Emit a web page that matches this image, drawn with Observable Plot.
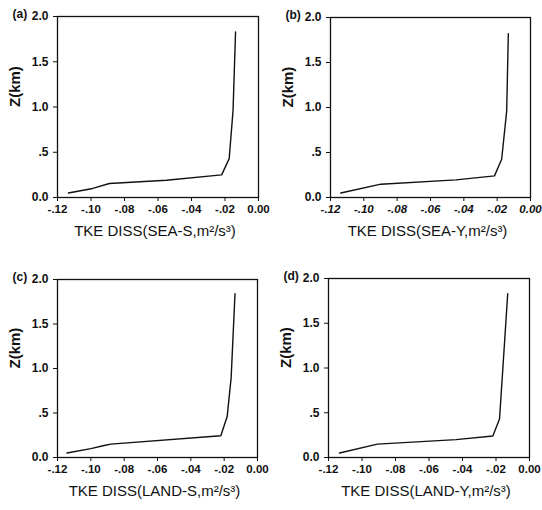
<!DOCTYPE html>
<html>
<head>
<meta charset="utf-8">
<script src="https://cdn.jsdelivr.net/npm/d3@7"></script>
<script src="https://cdn.jsdelivr.net/npm/@observablehq/plot@0.6"></script>
<style>
  html, body { margin: 0; padding: 0; background: #fff; }
  #wrap { position: relative; width: 542px; height: 510px; overflow: hidden; }
  .panel { position: absolute; width: 271px; height: 255px; }
  .panel svg { overflow: visible; }
</style>
</head>
<body>
<div id="wrap"></div>
<script>
// ---- data ----
const xTicks = [-0.12, -0.10, -0.08, -0.06, -0.04, -0.02, 0.00];
const xTickLabels = ["-.12", "-.10", "-.08", "-.06", "-.04", "-.02", "0.00"];
const yTicks = [0, 0.5, 1.0, 1.5, 2.0];
const yTickLabels = ["0.0", ".5", "1.0", "1.5", "2.0"];

const panelTags = ["(a)", "(b)", "(c)", "(d)"];
const panelTitles = [
  "TKE DISS(SEA-S,m\u00B2/s\u00B3)",
  "TKE DISS(SEA-Y,m\u00B2/s\u00B3)",
  "TKE DISS(LAND-S,m\u00B2/s\u00B3)",
  "TKE DISS(LAND-Y,m\u00B2/s\u00B3)"
];
const yLabel = "Z(km)";

// heights (km) and dissipation values per panel
const seaSZ = [0.05, 0.10, 0.155, 0.19, 0.25, 0.43, 0.96, 1.83];
const seaSX = [-0.1135, -0.099, -0.089, -0.055, -0.022, -0.0175, -0.0152, -0.0137];

const seaYZ = [0.05, 0.148, 0.196, 0.24, 0.425, 0.96, 1.82];
const seaYX = [-0.1138, -0.0898, -0.0447, -0.0216, -0.0173, -0.0143, -0.0133];

const landSZ = [0.05, 0.10, 0.135, 0.15, 0.245, 0.46, 0.90, 1.84];
const landSX = [-0.1143, -0.100, -0.092, -0.088, -0.022, -0.0182, -0.0158, -0.0135];

const landYZ = [0.05, 0.15, 0.20, 0.24, 0.43, 0.97, 1.83];
const landYX = [-0.1134, -0.0908, -0.0439, -0.0219, -0.0179, -0.0160, -0.0130];

const series = [[seaSX, seaSZ], [seaYX, seaYZ], [landSX, landSZ], [landYX, landYZ]];

// ---- layout ----
const layouts = [
  {left: 0,   top: 0,   mL: 57, mR: 13, mT: 16, mB: 58, italicX: false},
  {left: 271, top: 0,   mL: 59, mR: 12, mT: 17, mB: 58, italicX: true},
  {left: 0,   top: 255, mL: 57, mR: 14, mT: 24, mB: 53, italicX: false},
  {left: 271, top: 255, mL: 57, mR: 13, mT: 23, mB: 53, italicX: false}
];

const ink = "#111";
const font = "'Liberation Sans', Arial, Helvetica, sans-serif";
const wrap = document.getElementById("wrap");

layouts.forEach((L, i) => {
  const [xs, zs] = series[i];
  const pts = xs.map((x, k) => ({x, z: zs[k]}));
  const chart = Plot.plot({
    width: 271,
    height: 255,
    marginLeft: L.mL,
    marginRight: L.mR,
    marginTop: L.mT,
    marginBottom: L.mB,
    style: {fontFamily: font, color: ink, background: "transparent"},
    x: {domain: [-0.12, 0], label: null},
    y: {domain: [0, 2], label: null},
    marks: [
      Plot.axisX({
        ticks: xTicks,
        tickFormat: d => xTickLabels[xTicks.indexOf(d)],
        tickSize: 4, tickPadding: 3,
        fontSize: 11.5, fontWeight: "bold",
        fontStyle: L.italicX ? "italic" : "normal",
        stroke: ink, fill: ink, label: null
      }),
      Plot.axisY({
        ticks: yTicks,
        tickFormat: d => yTickLabels[yTicks.indexOf(d)],
        tickSize: 4, tickPadding: 5,
        fontSize: 12, fontWeight: "bold",
        stroke: ink, fill: ink, label: null
      }),
      Plot.frame({stroke: ink, strokeWidth: 1.3}),
      Plot.line(pts, {x: "x", y: "z", stroke: ink, strokeWidth: 1.4}),
      Plot.text([panelTitles[i]], {
        text: d => d, frameAnchor: "bottom", dy: 34, dx: -3,
        fontSize: 15, fill: ink, lineAnchor: "middle",
        letterSpacing: 0.6
      }),
      Plot.text([yLabel], {
        text: d => d, frameAnchor: "left", dx: -42, rotate: -90,
        fontSize: 15, fontWeight: "bold", fill: ink, lineAnchor: "middle"
      }),
      Plot.text([panelTags[i]], {
        text: d => d, frameAnchor: "top-left", dx: -45, dy: -2,
        textAnchor: "start", lineAnchor: "middle",
        fontSize: 12, fontWeight: "bold", fill: ink
      })
    ]
  });
  const div = document.createElement("div");
  div.className = "panel";
  div.style.left = L.left + "px";
  div.style.top = L.top + "px";
  div.appendChild(chart);
  wrap.appendChild(div);
});
</script>
</body>
</html>
